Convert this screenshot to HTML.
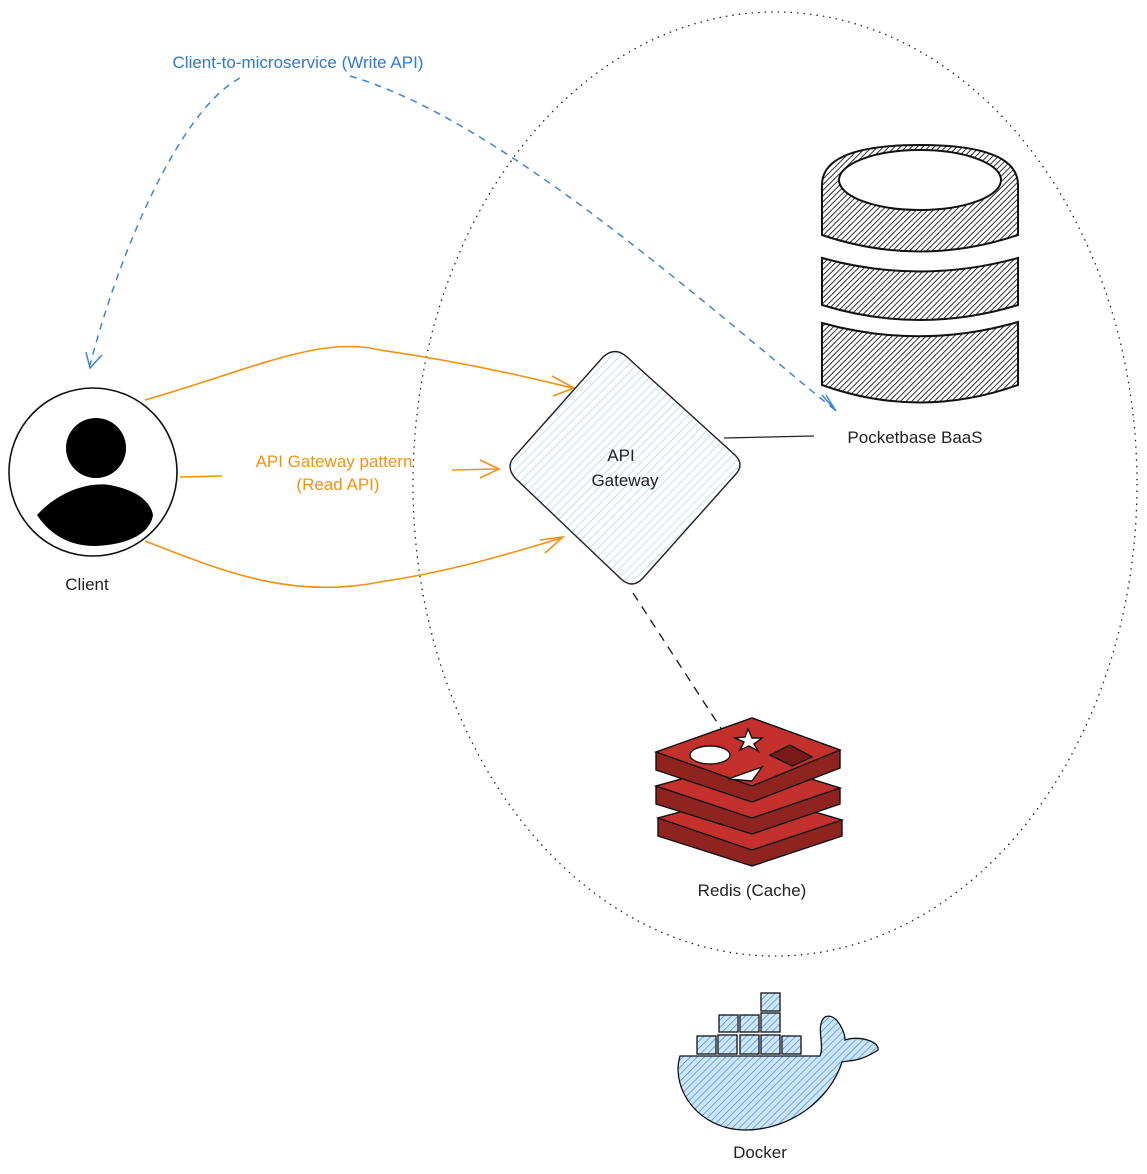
<!DOCTYPE html>
<html><head><style>body{margin:0;background:#fff}svg{display:block}text{font-family:"Liberation Sans","DejaVu Sans",sans-serif}</style></head>
<body>
<svg width="1147" height="1174" viewBox="0 0 1147 1174" xmlns="http://www.w3.org/2000/svg">
<defs>
<pattern id="hg" width="4" height="4" patternUnits="userSpaceOnUse" patternTransform="rotate(45)"><rect width="4" height="4" fill="#fff"/><line x1="0" y1="0" x2="0" y2="4" stroke="#333" stroke-width="2"/></pattern>
<pattern id="hb" width="6" height="6" patternUnits="userSpaceOnUse" patternTransform="rotate(45)"><rect width="6" height="6" fill="#fff"/><line x1="0" y1="0" x2="0" y2="6" stroke="#a5d0f5" stroke-width="1.3"/></pattern>
<pattern id="hd" width="5" height="5" patternUnits="userSpaceOnUse" patternTransform="rotate(45)"><rect width="5" height="5" fill="#cfe5f9"/><line x1="0" y1="0" x2="0" y2="5" stroke="#4a9be6" stroke-width="1.6"/></pattern>
</defs>
<ellipse cx="775" cy="484" rx="362" ry="472" fill="none" stroke="#222" stroke-width="1.3" stroke-dasharray="1.5 5"/>
<g fill="none" stroke="#3d86d3" stroke-width="1.5">
<path d="M240 78 C180 110 120 250 90 365" stroke-dasharray="7 6"/>
<path d="M86 352 L90 368 L102 355"/>
<path d="M350 76 C500 120 700 300 835 410" stroke-dasharray="7 6"/>
<path d="M822 395 L836 411 L826 395" />
</g>
<text x="298" y="68" font-size="17" fill="#2d7ad0" text-anchor="middle">Client-to-microservice (Write API)</text>
<g fill="none" stroke="#f2920f" stroke-width="1.6">
<path d="M145 400 C250 370 320 335 380 350 C450 360 520 375 572 388"/>
<path d="M552 376 L574 388 L553 396"/>
<path d="M145 541 C220 570 290 600 380 582 C460 570 520 550 562 538"/>
<path d="M540 540 L563 537 L545 553"/>
<path d="M180 477 L222 476"/>
<path d="M452 470 L498 469"/>
<path d="M480 460 L499 469 L480 478"/>
</g>
<text x="334" y="467" font-size="17" fill="#f2920f" text-anchor="middle">API Gateway pattern</text>
<text x="338" y="490" font-size="17" fill="#f2920f" text-anchor="middle">(Read API)</text>
<circle cx="93" cy="472" r="84" fill="#fff" stroke="#111" stroke-width="1.6"/>
<circle cx="96" cy="448" r="30" fill="#000"/>
<path d="M37 515 C60 490 90 482 110 485 C135 490 150 500 153 515 C150 535 125 545 95 546 C70 546 50 535 37 515 Z" fill="#000"/>
<text x="87" y="590" font-size="17" fill="#222" text-anchor="middle">Client</text>
<path d="M603 357 Q615 346 627 357 L735 455 Q745 465 735 475 L643 578 Q632 590 620 578 L515 478 Q505 466 515 456 Z" fill="url(#hb)" stroke="#222" stroke-width="1.4"/>
<text x="621" y="461" font-size="17" fill="#222" text-anchor="middle">API</text>
<text x="625" y="486" font-size="17" fill="#222" text-anchor="middle">Gateway</text>
<line x1="724" y1="438" x2="814" y2="436" stroke="#222" stroke-width="1.3"/>
<line x1="633" y1="593" x2="722" y2="730" stroke="#222" stroke-width="1.4" stroke-dasharray="9 7"/>
<g stroke="#111" stroke-width="2" fill="url(#hg)">
<path d="M822 323 Q920 350 1018 322 L1018 385 Q920 420 822 385 Z"/>
<path d="M822 258 Q920 285 1018 258 L1018 305 Q920 335 822 305 Z"/>
<path d="M822 185 Q822 145 920 145 Q1018 145 1018 185 L1018 235 Q920 268 822 235 Z"/>
</g>
<ellipse cx="920" cy="180" rx="81" ry="30" fill="#fff" stroke="#111" stroke-width="2"/>
<text x="915" y="443" font-size="17" fill="#222" text-anchor="middle">Pocketbase BaaS</text>
<g stroke="#111" stroke-width="1.4">
<path d="M658 818 L750 793 L842 820 L842 836 L752 866 L658 836 Z" fill="#8f2320"/>
<path d="M658 818 L750 793 L842 820 L752 850 Z" fill="#c4302b"/>
<path d="M656 786 L750 760 L840 788 L840 804 L752 834 L656 804 Z" fill="#8f2320"/>
<path d="M656 786 L750 760 L840 788 L752 818 Z" fill="#c4302b"/>
<path d="M656 752 L752 718 L840 750 L840 768 L752 802 L656 770 Z" fill="#8f2320"/>
<path d="M656 752 L752 718 L840 750 L752 786 Z" fill="#c4302b"/>
<ellipse cx="710" cy="755" rx="20" ry="9" fill="#fff"/>
<path d="M728 779 L762 767 L752 781 Z" fill="#fff"/>
<path d="M770 755 L790 745 L812 757 L792 766 Z" fill="#7a1a18"/>
<path d="M748 729 L752 738 L762 738 L754 744 L758 751 L749 746 L740 750 L744 742 L735 738 L745 737 Z" fill="#fff"/>
</g>
<text x="752" y="896" font-size="17" fill="#222" text-anchor="middle">Redis (Cache)</text>
<g stroke="#111" stroke-width="1.3" fill="url(#hd)">
<rect x="761" y="993" width="19" height="18"/>
<rect x="719" y="1015" width="19" height="17"/><rect x="740" y="1015" width="19" height="17"/><rect x="761" y="1013" width="19" height="19"/>
<rect x="697" y="1036" width="19" height="18"/><rect x="718" y="1035" width="19" height="19"/><rect x="740" y="1035" width="19" height="19"/><rect x="761" y="1035" width="19" height="19"/><rect x="782" y="1036" width="19" height="18"/>
<path d="M680 1056 L820 1056 C825 1045 815 1025 825 1017 C835 1012 845 1030 845 1040 C860 1035 880 1042 878 1050 C860 1062 850 1060 842 1062 C830 1100 790 1130 745 1130 C700 1130 670 1090 680 1056 Z"/>
</g>
<text x="760" y="1158" font-size="17" fill="#222" text-anchor="middle">Docker</text>
</svg>
</body></html>
